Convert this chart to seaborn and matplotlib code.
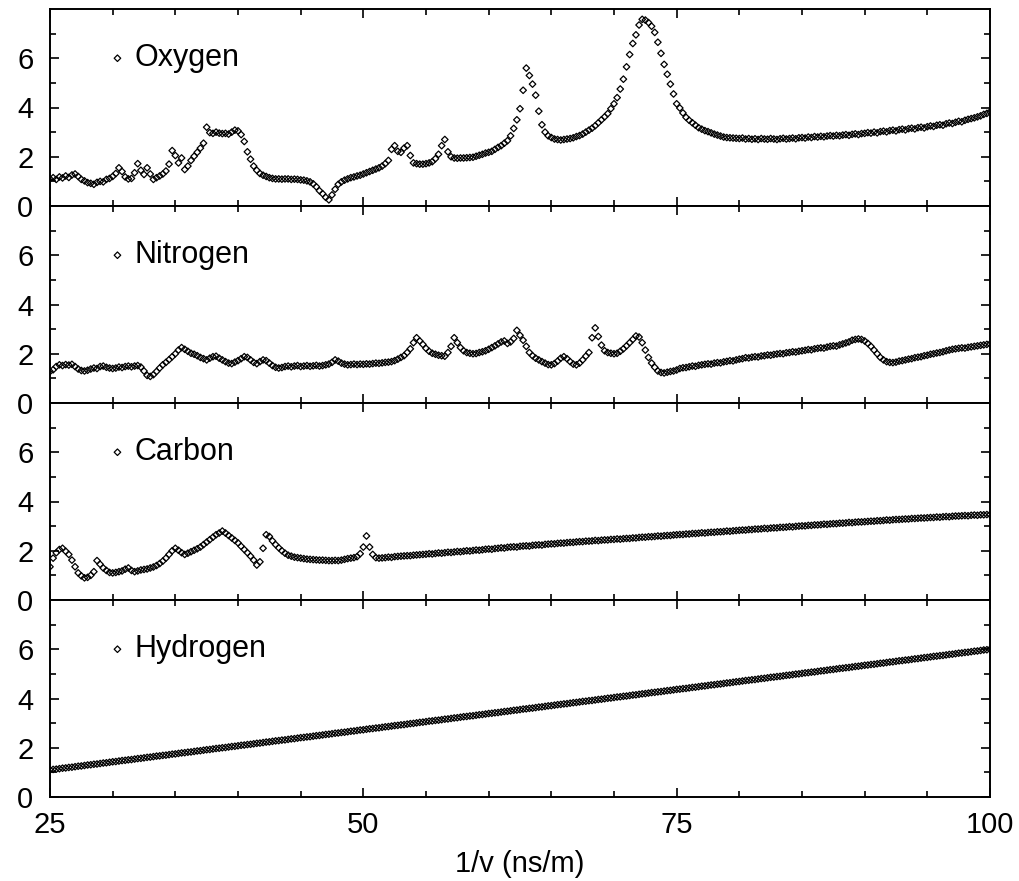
import numpy as np
import pandas as pd
import matplotlib
matplotlib.use("Agg")
import matplotlib.pyplot as plt
import seaborn as sns
from matplotlib.ticker import FixedLocator, MultipleLocator

sns.set_theme(style="ticks")
plt.rcParams["font.family"] = ["Liberation Sans", "DejaVu Sans"]

# 1/v sampling grid (ns/m), step 0.25
inv_velocity = np.linspace(25.0, 100.0, 301)

oxygen = [
    1.10, 1.15, 1.08, 1.18, 1.14, 1.22, 1.16, 1.26, 1.30, 1.20, 1.08, 1.02, 0.95, 0.92, 0.88, 0.96, 1.00, 0.98, 1.08, 1.12,
    1.20, 1.32, 1.55, 1.40, 1.18, 1.10, 1.12, 1.35, 1.72, 1.45, 1.28, 1.55, 1.30, 1.08, 1.15, 1.22, 1.30, 1.42, 1.70, 2.25,
    2.05, 1.75, 1.95, 1.48, 1.62, 1.85, 2.02, 2.18, 2.35, 2.55, 3.20, 2.98, 2.95, 3.00, 2.96, 2.94, 2.95, 2.92, 3.00, 3.08,
    3.05, 2.90, 2.62, 2.20, 1.90, 1.62, 1.45, 1.32, 1.25, 1.20, 1.15, 1.12, 1.10, 1.10, 1.09, 1.10, 1.10, 1.08, 1.09, 1.08,
    1.06, 1.05, 1.02, 0.98, 0.90, 0.78, 0.62, 0.50, 0.35, 0.25, 0.45, 0.68, 0.88, 0.98, 1.05, 1.10, 1.15, 1.18, 1.22, 1.25,
    1.30, 1.35, 1.40, 1.45, 1.50, 1.55, 1.62, 1.72, 1.85, 2.30, 2.45, 2.22, 2.18, 2.35, 2.45, 2.05, 1.75, 1.72, 1.70, 1.70,
    1.72, 1.75, 1.80, 1.92, 2.10, 2.45, 2.70, 2.20, 2.00, 1.95, 1.94, 1.95, 1.95, 1.96, 1.97, 1.98, 2.02, 2.06, 2.10, 2.15,
    2.18, 2.22, 2.30, 2.38, 2.45, 2.55, 2.65, 2.85, 3.15, 3.50, 3.95, 4.70, 5.60, 5.30, 4.95, 4.50, 3.85, 3.30, 3.00, 2.85,
    2.78, 2.72, 2.70, 2.68, 2.70, 2.72, 2.74, 2.77, 2.82, 2.86, 2.92, 3.00, 3.08, 3.16, 3.26, 3.38, 3.50, 3.62, 3.75, 3.95,
    4.15, 4.40, 4.75, 5.15, 5.65, 6.15, 6.60, 6.95, 7.35, 7.58, 7.55, 7.45, 7.30, 7.05, 6.65, 6.20, 5.75, 5.35, 4.95, 4.55,
    4.15, 3.98, 3.78, 3.60, 3.48, 3.38, 3.28, 3.18, 3.12, 3.06, 3.02, 2.97, 2.92, 2.88, 2.84, 2.80, 2.78, 2.77, 2.76, 2.75,
    2.74, 2.76, 2.72, 2.74, 2.71, 2.73, 2.70, 2.74, 2.72, 2.71, 2.74, 2.72, 2.70, 2.73, 2.75, 2.72, 2.74, 2.76, 2.73, 2.77,
    2.78, 2.76, 2.80, 2.78, 2.82, 2.80, 2.83, 2.81, 2.84, 2.86, 2.84, 2.87, 2.85, 2.88, 2.90, 2.87, 2.91, 2.93, 2.90, 2.94,
    2.95, 2.98, 2.96, 3.00, 2.97, 3.02, 3.04, 3.01, 3.06, 3.08, 3.05, 3.10, 3.12, 3.09, 3.14, 3.16, 3.13, 3.18, 3.20, 3.17,
    3.22, 3.25, 3.23, 3.28, 3.30, 3.28, 3.34, 3.37, 3.35, 3.40, 3.44, 3.42, 3.48, 3.52, 3.55, 3.58, 3.62, 3.66, 3.72, 3.76,
    3.82,
]

nitrogen = [
    1.28, 1.35, 1.48, 1.55, 1.52, 1.56, 1.54, 1.57, 1.48, 1.38, 1.32, 1.30, 1.33, 1.38, 1.42, 1.40, 1.48, 1.50, 1.45, 1.42,
    1.40, 1.42, 1.46, 1.44, 1.48, 1.50, 1.47, 1.50, 1.52, 1.46, 1.30, 1.12, 1.08, 1.15, 1.28, 1.42, 1.55, 1.65, 1.76, 1.88,
    2.00, 2.15, 2.25, 2.18, 2.10, 2.02, 1.98, 1.92, 1.85, 1.80, 1.75, 1.82, 1.88, 1.90, 1.82, 1.75, 1.68, 1.62, 1.60, 1.66,
    1.72, 1.80, 1.88, 1.85, 1.75, 1.65, 1.60, 1.68, 1.75, 1.72, 1.62, 1.52, 1.45, 1.42, 1.44, 1.48, 1.50, 1.47, 1.50, 1.52,
    1.48, 1.50, 1.52, 1.49, 1.51, 1.53, 1.50, 1.52, 1.55, 1.58, 1.65, 1.75, 1.70, 1.62, 1.58, 1.55, 1.56, 1.58, 1.56, 1.58,
    1.57, 1.59, 1.58, 1.60, 1.62, 1.61, 1.63, 1.65, 1.66, 1.68, 1.72, 1.78, 1.85, 1.92, 2.05, 2.20, 2.45, 2.65, 2.52, 2.38,
    2.22, 2.10, 2.02, 1.98, 1.94, 1.92, 1.90, 2.05, 2.30, 2.65, 2.45, 2.25, 2.12, 2.05, 2.02, 2.00, 2.01, 2.05, 2.08, 2.12,
    2.18, 2.25, 2.32, 2.40, 2.48, 2.52, 2.42, 2.48, 2.62, 2.95, 2.75, 2.55, 2.30, 2.05, 1.92, 1.82, 1.75, 1.68, 1.62, 1.56,
    1.55, 1.60, 1.70, 1.82, 1.88, 1.80, 1.68, 1.58, 1.55, 1.62, 1.75, 1.90, 2.05, 2.65, 3.05, 2.70, 2.35, 2.12, 2.05, 2.02,
    2.00, 2.02, 2.10, 2.20, 2.32, 2.45, 2.58, 2.72, 2.68, 2.45, 2.15, 1.85, 1.62, 1.45, 1.30, 1.24, 1.22, 1.25, 1.28, 1.30,
    1.34, 1.40, 1.43, 1.44, 1.47, 1.50, 1.49, 1.53, 1.55, 1.57, 1.59, 1.58, 1.62, 1.64, 1.63, 1.67, 1.69, 1.72, 1.71, 1.75,
    1.78, 1.80, 1.84, 1.83, 1.86, 1.88, 1.87, 1.91, 1.92, 1.95, 1.94, 1.97, 1.99, 2.01, 2.00, 2.04, 2.05, 2.08, 2.07, 2.10,
    2.12, 2.14, 2.17, 2.16, 2.20, 2.22, 2.24, 2.23, 2.27, 2.30, 2.32, 2.31, 2.36, 2.40, 2.44, 2.48, 2.55, 2.58, 2.60, 2.58,
    2.52, 2.42, 2.30, 2.15, 2.00, 1.85, 1.75, 1.68, 1.65, 1.64, 1.66, 1.70, 1.72, 1.75, 1.78, 1.80, 1.84, 1.86, 1.88, 1.92,
    1.94, 1.98, 2.00, 2.03, 2.05, 2.08, 2.12, 2.15, 2.18, 2.20, 2.22, 2.24, 2.23, 2.26, 2.28, 2.30, 2.32, 2.34, 2.36, 2.38,
    2.40,
]

carbon = [
    1.35, 1.70, 1.92, 2.05, 2.10, 1.98, 1.85, 1.62, 1.35, 1.10, 0.98, 0.90, 0.92, 1.00, 1.15, 1.60, 1.45, 1.30, 1.20, 1.12,
    1.10, 1.12, 1.15, 1.18, 1.25, 1.30, 1.20, 1.15, 1.18, 1.22, 1.24, 1.26, 1.30, 1.34, 1.40, 1.48, 1.58, 1.70, 1.85, 2.00,
    2.10, 2.02, 1.92, 1.85, 1.90, 1.96, 2.02, 2.08, 2.15, 2.25, 2.35, 2.45, 2.55, 2.65, 2.72, 2.80, 2.72, 2.62, 2.52, 2.42,
    2.32, 2.18, 2.05, 1.92, 1.78, 1.62, 1.42, 1.55, 2.10, 2.65, 2.58, 2.40, 2.25, 2.12, 2.00, 1.90, 1.82, 1.78, 1.74, 1.72,
    1.70, 1.68, 1.66, 1.65, 1.64, 1.63, 1.62, 1.62, 1.61, 1.60, 1.60, 1.61, 1.60, 1.62, 1.65, 1.68, 1.70, 1.72, 1.76, 1.88,
    2.15, 2.60, 2.15, 1.85, 1.72, 1.70, 1.71, 1.72, 1.74, 1.73, 1.76, 1.77, 1.78, 1.79, 1.80, 1.80, 1.82, 1.83, 1.84, 1.85,
    1.86, 1.88, 1.87, 1.89, 1.91, 1.90, 1.92, 1.94, 1.93, 1.95, 1.97, 1.96, 1.98, 2.00, 1.99, 2.01, 2.03, 2.02, 2.04, 2.06,
    2.07, 2.06, 2.09, 2.10, 2.12, 2.11, 2.14, 2.15, 2.16, 2.15, 2.18, 2.19, 2.20, 2.19, 2.22, 2.23, 2.24, 2.23, 2.26, 2.27,
    2.28, 2.28, 2.30, 2.31, 2.31, 2.33, 2.34, 2.34, 2.36, 2.37, 2.37, 2.39, 2.39, 2.40, 2.42, 2.41, 2.43, 2.44, 2.44, 2.46,
    2.46, 2.48, 2.47, 2.49, 2.50, 2.50, 2.52, 2.52, 2.54, 2.55, 2.55, 2.57, 2.57, 2.58, 2.60, 2.59, 2.61, 2.62, 2.62, 2.64,
    2.65, 2.66, 2.66, 2.68, 2.68, 2.70, 2.70, 2.71, 2.73, 2.72, 2.74, 2.75, 2.75, 2.77, 2.77, 2.78, 2.80, 2.79, 2.81, 2.82,
    2.83, 2.84, 2.84, 2.86, 2.86, 2.88, 2.88, 2.89, 2.91, 2.90, 2.92, 2.93, 2.93, 2.95, 2.95, 2.96, 2.98, 2.97, 2.99, 3.00,
    3.01, 3.01, 3.03, 3.03, 3.05, 3.05, 3.06, 3.08, 3.07, 3.09, 3.10, 3.10, 3.12, 3.12, 3.13, 3.15, 3.14, 3.16, 3.17, 3.17,
    3.18, 3.19, 3.20, 3.20, 3.22, 3.22, 3.23, 3.25, 3.24, 3.26, 3.27, 3.27, 3.28, 3.29, 3.29, 3.31, 3.31, 3.32, 3.33, 3.33,
    3.34, 3.35, 3.35, 3.37, 3.36, 3.38, 3.39, 3.38, 3.40, 3.41, 3.41, 3.42, 3.43, 3.42, 3.44, 3.45, 3.44, 3.46, 3.46, 3.47,
    3.47,
]

hydrogen = [
    1.10, 1.12, 1.13, 1.15, 1.17, 1.18, 1.20, 1.21, 1.23, 1.25, 1.26, 1.28, 1.30, 1.31, 1.33, 1.34, 1.36, 1.38, 1.39, 1.41,
    1.43, 1.44, 1.46, 1.48, 1.49, 1.51, 1.52, 1.54, 1.56, 1.57, 1.59, 1.61, 1.62, 1.64, 1.66, 1.67, 1.69, 1.70, 1.72, 1.74,
    1.75, 1.77, 1.79, 1.80, 1.82, 1.83, 1.85, 1.87, 1.88, 1.90, 1.92, 1.93, 1.95, 1.97, 1.98, 2.00, 2.01, 2.03, 2.05, 2.06,
    2.08, 2.10, 2.11, 2.13, 2.14, 2.16, 2.18, 2.19, 2.21, 2.23, 2.24, 2.26, 2.28, 2.29, 2.31, 2.32, 2.34, 2.36, 2.37, 2.39,
    2.41, 2.42, 2.44, 2.45, 2.47, 2.49, 2.50, 2.52, 2.54, 2.55, 2.57, 2.59, 2.60, 2.62, 2.63, 2.65, 2.67, 2.68, 2.70, 2.72,
    2.73, 2.75, 2.77, 2.78, 2.80, 2.81, 2.83, 2.85, 2.86, 2.88, 2.90, 2.91, 2.93, 2.94, 2.96, 2.98, 2.99, 3.01, 3.03, 3.04,
    3.06, 3.08, 3.09, 3.11, 3.12, 3.14, 3.16, 3.17, 3.19, 3.21, 3.22, 3.24, 3.26, 3.27, 3.29, 3.30, 3.32, 3.34, 3.35, 3.37,
    3.39, 3.40, 3.42, 3.43, 3.45, 3.47, 3.48, 3.50, 3.52, 3.53, 3.55, 3.57, 3.58, 3.60, 3.61, 3.63, 3.65, 3.66, 3.68, 3.70,
    3.71, 3.73, 3.75, 3.76, 3.78, 3.79, 3.81, 3.83, 3.84, 3.86, 3.88, 3.89, 3.91, 3.92, 3.94, 3.96, 3.97, 3.99, 4.01, 4.02,
    4.04, 4.06, 4.07, 4.09, 4.10, 4.12, 4.14, 4.15, 4.17, 4.19, 4.20, 4.22, 4.24, 4.25, 4.27, 4.28, 4.30, 4.32, 4.33, 4.35,
    4.37, 4.38, 4.40, 4.41, 4.43, 4.45, 4.46, 4.48, 4.50, 4.51, 4.53, 4.55, 4.56, 4.58, 4.59, 4.61, 4.63, 4.64, 4.66, 4.68,
    4.69, 4.71, 4.73, 4.74, 4.76, 4.77, 4.79, 4.81, 4.82, 4.84, 4.86, 4.87, 4.89, 4.90, 4.92, 4.94, 4.95, 4.97, 4.99, 5.00,
    5.02, 5.04, 5.05, 5.07, 5.08, 5.10, 5.12, 5.13, 5.15, 5.17, 5.18, 5.20, 5.22, 5.23, 5.25, 5.26, 5.28, 5.30, 5.31, 5.33,
    5.35, 5.36, 5.38, 5.39, 5.41, 5.43, 5.44, 5.46, 5.48, 5.49, 5.51, 5.53, 5.54, 5.56, 5.57, 5.59, 5.61, 5.62, 5.64, 5.66,
    5.67, 5.69, 5.71, 5.72, 5.74, 5.75, 5.77, 5.79, 5.80, 5.82, 5.84, 5.85, 5.87, 5.88, 5.90, 5.92, 5.93, 5.95, 5.97, 5.98,
    6.00,
]

elements = ["Oxygen", "Nitrogen", "Carbon", "Hydrogen"]
series = [oxygen, nitrogen, carbon, hydrogen]

x_major = [25, 50, 75, 100]
y_major = [0, 2, 4, 6]
y_minor = [1, 3, 5, 7]

fig, axes = plt.subplots(4, 1, figsize=(10.2, 8.81), dpi=100, sharex=True)
fig.subplots_adjust(left=50 / 1020, right=990 / 1020, top=1 - 9 / 881,
                    bottom=1 - 797 / 881, hspace=0)

for ax, name, values in zip(axes, elements, series):
    df = pd.DataFrame({"inv_v": inv_velocity, "value": values})
    sns.scatterplot(data=df, x="inv_v", y="value", ax=ax, marker="D", s=11,
                    facecolor="none", edgecolor="black", linewidth=0.9,
                    label=name, zorder=3)
    ax.set_xlim(25, 100)
    ax.set_ylim(0, 8)
    ax.xaxis.set_major_locator(FixedLocator(x_major))
    ax.xaxis.set_minor_locator(MultipleLocator(5))
    ax.yaxis.set_major_locator(FixedLocator(y_major))
    ax.yaxis.set_minor_locator(FixedLocator(y_minor))
    ax.tick_params(which="both", direction="in", top=True, right=True,
                   width=1.2, color="black", labelsize=21, labelcolor="black")
    ax.tick_params(axis="y", pad=12)
    ax.tick_params(axis="x", pad=10)
    ax.tick_params(which="major", length=6.5)
    ax.tick_params(which="minor", length=4.5)
    for side in ax.spines.values():
        side.set_linewidth(1.4)
        side.set_color("black")
    ax.set_ylabel("")
    ax.set_xlabel("")
    ax.legend(loc="center left", bbox_to_anchor=(0.0555, 0.75), frameon=False,
              fontsize=22, handlelength=1.0, handletextpad=0.05, borderpad=0,
              borderaxespad=0, labelcolor="black")

axes[-1].set_xlabel("1/v (ns/m)", fontsize=21, color="black", labelpad=8)

fig.savefig("out.png", dpi=100, facecolor="white")
